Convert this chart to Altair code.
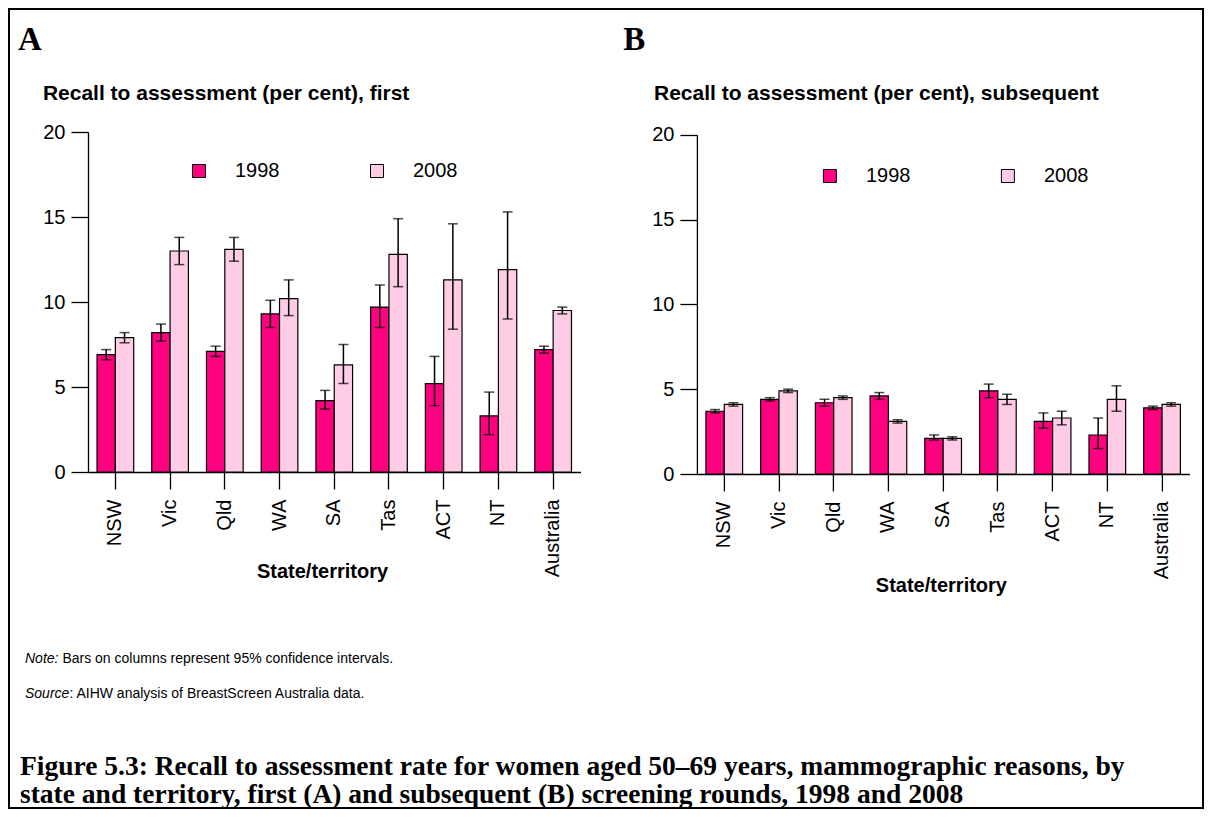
import altair as alt
import pandas as pd

states = ["NSW", "Vic", "Qld", "WA", "SA", "Tas", "ACT", "NT", "Australia"]
years = ["1998", "2008"]
colors = ["#FF0080", "#FFCCE6"]

# Panel A: first screening round
a_1998 = [6.9, 8.2, 7.1, 9.3, 4.2, 9.7, 5.2, 3.3, 7.2]
a_1998_lo = [6.6, 7.7, 6.8, 8.5, 3.7, 8.5, 3.9, 2.2, 7.0]
a_1998_hi = [7.2, 8.7, 7.4, 10.1, 4.8, 11.0, 6.8, 4.7, 7.4]
a_2008 = [7.9, 13.0, 13.1, 10.2, 6.3, 12.8, 11.3, 11.9, 9.5]
a_2008_lo = [7.6, 12.2, 12.4, 9.2, 5.2, 10.9, 8.4, 9.0, 9.3]
a_2008_hi = [8.2, 13.8, 13.8, 11.3, 7.5, 14.9, 14.6, 15.3, 9.7]

# Panel B: subsequent screening rounds
b_1998 = [3.7, 4.4, 4.2, 4.6, 2.1, 4.9, 3.1, 2.3, 3.9]
b_1998_lo = [3.6, 4.3, 4.0, 4.4, 2.0, 4.5, 2.7, 1.5, 3.8]
b_1998_hi = [3.8, 4.5, 4.4, 4.8, 2.3, 5.3, 3.6, 3.3, 4.0]
b_2008 = [4.1, 4.9, 4.5, 3.1, 2.1, 4.4, 3.3, 4.4, 4.1]
b_2008_lo = [4.0, 4.8, 4.4, 3.0, 2.0, 4.1, 2.9, 3.7, 4.0]
b_2008_hi = [4.2, 5.0, 4.6, 3.2, 2.2, 4.7, 3.7, 5.2, 4.2]

y_ticks = [0, 5, 10, 15, 20]
title_a = "Recall to assessment (per cent), first"
title_b = "Recall to assessment (per cent), subsequent"
x_title = "State/territory"
note_lead = "Note:"
note_text = "Bars on columns represent 95% confidence intervals."
source_lead = "Source"
source_text = ": AIHW analysis of BreastScreen Australia data."
caption_1 = "Figure 5.3: Recall to assessment rate for women aged 50\u201369 years, mammographic reasons, by"
caption_2 = "state and territory, first (A) and subsequent (B) screening rounds, 1998 and 2008"

SANS = "Liberation Sans, Arial, sans-serif"
SERIF = "Liberation Serif, Times New Roman, serif"


def long_df(v98, lo98, hi98, v08, lo08, hi08):
    rows = []
    for i, s in enumerate(states):
        rows.append(dict(State=s, Year=years[0], Value=v98[i], Lo=lo98[i], Hi=hi98[i]))
        rows.append(dict(State=s, Year=years[1], Value=v08[i], Lo=lo08[i], Hi=hi08[i]))
    return pd.DataFrame(rows)


def txt(s, x, y, size, font=SANS, weight="normal", style="normal", align="left"):
    return alt.Chart(pd.DataFrame({"t": [s]})).mark_text(
        font=font, fontSize=size, fontWeight=weight, fontStyle=style,
        align=align, baseline="alphabetic", color="black"
    ).encode(text="t:N", x=alt.value(x), y=alt.value(y))


def panel(df, ytitle, height, yrange, leg_x, leg_y, xt_x, xt_y, yt_x, yt_y):
    yscale = alt.Scale(domain=[0, 20], range=yrange) if yrange else alt.Scale(domain=[0, 20])
    yaxis = alt.Axis(values=y_ticks, title=ytitle, titleAngle=0, titleX=yt_x, titleY=yt_y,
                     titleAlign="left", titleBaseline="alphabetic", titleFontSize=21,
                     titleFontWeight="bold", tickSize=17, labelFontSize=20, labelPadding=6,
                     grid=False)
    xenc = alt.X("State:N", sort=states,
                 scale=alt.Scale(paddingInner=0.33, paddingOuter=0.165),
                 axis=alt.Axis(title=x_title, labelAngle=270, labelFontSize=20, labelPadding=10,
                               tickSize=17, titleFontSize=20, titleFontWeight="bold",
                               titleX=xt_x, titleY=xt_y, titleAlign="center",
                               titleBaseline="alphabetic"))
    xo = alt.XOffset("Year:N", sort=years, scale=alt.Scale(paddingInner=0, paddingOuter=0))

    bars = alt.Chart(df).mark_bar(stroke="black", strokeWidth=1.2).encode(
        x=xenc, xOffset=xo,
        y=alt.Y("Value:Q", scale=yscale, axis=yaxis),
        color=alt.Color("Year:N", scale=alt.Scale(domain=years, range=colors),
                        legend=alt.Legend(orient="none", legendX=leg_x, legendY=leg_y,
                                          direction="horizontal", title=None,
                                          symbolType="square", symbolSize=169,
                                          symbolStrokeColor="black", symbolStrokeWidth=1,
                                          labelFontSize=20, labelFont=SANS, labelColor="black",
                                          labelOffset=26, columnPadding=87, padding=0)),
    )
    rules = alt.Chart(df).mark_rule(color="black", strokeWidth=1.5).encode(
        x=xenc, xOffset=xo,
        y=alt.Y("Lo:Q", scale=yscale, axis=yaxis), y2="Hi:Q")
    lo_caps = alt.Chart(df).mark_tick(color="black", thickness=1.5, size=10, orient="horizontal").encode(
        x=xenc, xOffset=xo, y=alt.Y("Lo:Q", scale=yscale, axis=yaxis))
    hi_caps = alt.Chart(df).mark_tick(color="black", thickness=1.5, size=10, orient="horizontal").encode(
        x=xenc, xOffset=xo, y=alt.Y("Hi:Q", scale=yscale, axis=yaxis))
    return [bars, rules, lo_caps, hi_caps]


df_a = long_df(a_1998, a_1998_lo, a_1998_hi, a_2008, a_2008_lo, a_2008_hi)
df_b = long_df(b_1998, b_1998_lo, b_1998_hi, b_2008, b_2008_lo, b_2008_hi)

W = 492.5

frame = alt.Chart(pd.DataFrame({"f": [1]})).mark_rect(
    filled=False, stroke="black", strokeWidth=2
).encode(x=alt.value(-79), x2=alt.value(1115), y=alt.value(-123), y2=alt.value(676))

layers_a = panel(df_a, title_a, 340, None, 101, 29, 234, 105, -45.6, -33)
layers_a += [
    txt("A", -70, -82, 33, font=SERIF, weight="bold"),
    txt(note_lead, -63, 531, 14, style="italic"),
    txt(note_text, -63 + 37.4, 531, 14),
    txt(source_lead, -63, 566, 14, style="italic"),
    txt(source_text, -63 + 44.4, 566, 14),
    txt(caption_1, -68, 643, 27.5, font=SERIF, weight="bold"),
    txt(caption_2, -68, 671, 27.5, font=SERIF, weight="bold"),
    frame,
]
chart_a = alt.layer(*layers_a).properties(width=W, height=340)

layers_b = panel(df_b, title_b, 342, [342, 2.7], 123, 34, 244, 117, -43.4, -33)
layers_b += [txt("B", -73.7, -82, 33, font=SERIF, weight="bold")]
chart_b = alt.layer(*layers_b).properties(width=W, height=342)

chart = alt.hconcat(chart_a, chart_b, spacing=115.9, bounds="flush").resolve_scale(
    color="independent"
).resolve_legend(color="independent").properties(padding=0).configure_view(
    stroke=None
).configure_axis(
    labelFont=SANS, titleFont=SANS, labelColor="black", titleColor="black",
    domainColor="black", tickColor="black", domainWidth=1.3, tickWidth=1.3
)

chart.save("out.html", embed_options={"renderer": "svg", "actions": False})
